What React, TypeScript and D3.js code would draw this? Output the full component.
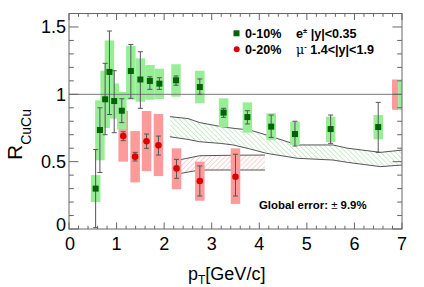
import React from "react";
import * as d3 from "d3";

// 0-10% e+- |y|<0.35 (green)
const ePt = [0.56, 0.65, 0.76, 0.85, 0.95, 1.11, 1.3, 1.5, 1.7, 1.9, 2.25, 2.75, 3.25, 3.75, 4.25, 4.75, 5.5, 6.5];
const eR = [0.3, 0.735, 0.963, 1.166, 0.95, 0.878, 1.173, 1.11, 1.099, 1.079, 1.104, 1.054, 0.864, 0.831, 0.76, 0.705, 0.742, 0.757];
const eStatLo = [0.01, 0.42, 0.7, 0.85, 0.715, 0.79, 0.97, 0.896, 1.037, 1.037, 1.067, 1.0, 0.829, 0.78, 0.68, 0.616, 0.636, 0.569];
const eStatHi = [0.59, 0.9, 1.23, 1.47, 1.175, 0.967, 1.37, 1.316, 1.13, 1.123, 1.136, 1.114, 0.896, 0.878, 0.846, 0.8, 0.846, 0.94];
const eSysLo = [0.2, 0.51, 0.75, 0.93, 0.82, 0.74, 0.96, 0.945, 0.96, 0.965, 0.982, 0.933, 0.755, 0.715, 0.66, 0.624, 0.646, 0.666];
const eSysHi = [0.4, 0.955, 1.175, 1.4, 1.08, 1.017, 1.36, 1.267, 1.218, 1.19, 1.223, 1.175, 0.97, 0.94, 0.859, 0.797, 0.834, 0.846];

// 0-20% mu- 1.4<|y|<1.9 (red)
const muPt = [1.14, 1.39, 1.63, 1.88, 2.26, 2.75, 3.5];
const muR = [0.69, 0.537, 0.651, 0.621, 0.45, 0.356, 0.388];
const muStatLo = [0.656, 0.505, 0.599, 0.549, 0.376, 0.245, 0.245];
const muStatHi = [0.722, 0.569, 0.705, 0.69, 0.517, 0.468, 0.555];
const muSysLo = [0.5, 0.346, 0.43, 0.393, 0.295, 0.21, 0.186];
const muSysHi = [0.876, 0.727, 0.876, 0.854, 0.599, 0.5, 0.599];

// theory bands
const gBandPt = [2.12, 2.5, 2.75, 3.2, 3.45, 3.8, 4.15, 4.8, 5.55, 5.85, 6.55, 7.0];
const gBandHi = [0.834, 0.82, 0.79, 0.76, 0.748, 0.735, 0.698, 0.624, 0.624, 0.6, 0.569, 0.586];
const gBandLo = [0.685, 0.665, 0.648, 0.635, 0.624, 0.595, 0.562, 0.525, 0.512, 0.495, 0.463, 0.475];
const rBandPt = [2.3, 2.75, 3.5, 4.12];
const rBandHi = [0.512, 0.544, 0.548, 0.549];
const rBandLo = [0.41, 0.438, 0.438, 0.438];

// global normalisation boxes at the right edge
const globalLo = 0.885;
const globalHi = 1.11;

const xTicks = [0, 1, 2, 3, 4, 5, 6, 7];
const yTicks = [0, 0.5, 1, 1.5];

const W = 424;
const H = 287;
const FONT = "'Liberation Sans', Arial, Helvetica, sans-serif";

const GREEN_BOX = "#97ee97";
const RED_BOX = "#ff9a9a";
const GREEN_MK = "#006400";
const RED_MK = "#dd0000";
const LINE = "#555";

export default function App() {
  const x = d3.scaleLinear().domain([0, 7]).range([69, 402]);
  const y = d3.scaleLinear().domain([0, 1.6]).range([229, 13.5]);
  const [x0, x1] = x.range();
  const [y0, y1] = y.range();

  const xMinor = d3.range(0, 7.0001, 0.2).filter((v) => Math.abs(v - Math.round(v)) > 1e-6);
  const yMinor = d3.range(0, 1.6001, 0.1).filter((v) => Math.abs(v * 2 - Math.round(v * 2)) > 1e-6);

  const bandArea = (pts: number[], lo: number[], hi: number[]) =>
    d3
      .area<number>()
      .x((_, i) => x(pts[i]))
      .y0((_, i) => y(lo[i]))
      .y1((_, i) => y(hi[i]))(pts) || "";
  const bandLine = (pts: number[], vals: number[]) =>
    d3
      .line<number>()
      .x((_, i) => x(pts[i]))
      .y((_, i) => y(vals[i]))(pts) || "";

  const halfW = 0.1;
  const cap = 2.5;

  const errBars = (pts: number[], lo: number[], hi: number[]) =>
    pts.map((p, i) => (
      <g key={i} stroke={LINE} strokeWidth={1}>
        <line x1={x(p)} x2={x(p)} y1={y(lo[i])} y2={y(hi[i])} />
        <line x1={x(p) - cap} x2={x(p) + cap} y1={y(lo[i])} y2={y(lo[i])} />
        <line x1={x(p) - cap} x2={x(p) + cap} y1={y(hi[i])} y2={y(hi[i])} />
      </g>
    ));

  return (
    <svg width={W} height={H} style={{ position: "absolute", left: 0, top: 0, background: "#fff" }} fontFamily={FONT}>
      <defs>
        <pattern id="hatchG" width={3.5} height={3.5} patternUnits="userSpaceOnUse" patternTransform="rotate(-45)">
          <line x1={0} y1={0} x2={0} y2={3.5} stroke="#9ad89a" strokeWidth={1} />
        </pattern>
        <pattern id="hatchR" width={3.5} height={3.5} patternUnits="userSpaceOnUse" patternTransform="rotate(45)">
          <line x1={0} y1={0} x2={0} y2={3.5} stroke="#f5a5a5" strokeWidth={1} />
        </pattern>
        <clipPath id="frame">
          <rect x={x0} y={y1} width={x1 - x0} height={y0 - y1} />
        </clipPath>
      </defs>

      <g clipPath="url(#frame)">
        {/* theory bands */}
        <path d={bandArea(gBandPt, gBandLo, gBandHi)} fill="url(#hatchG)" />
        <path d={bandArea(rBandPt, rBandLo, rBandHi)} fill="url(#hatchR)" />
        <g fill="none" stroke={LINE} strokeWidth={1}>
          <path d={bandLine(gBandPt, gBandHi)} />
          <path d={bandLine(gBandPt, gBandLo)} />
          <path d={bandLine(rBandPt, rBandHi)} />
          <path d={bandLine(rBandPt, rBandLo)} />
        </g>

        {/* systematic boxes */}
        {muPt.map((p, i) => (
          <rect key={i} x={x(p - halfW)} width={x(p + halfW) - x(p - halfW)} y={y(muSysHi[i])} height={y(muSysLo[i]) - y(muSysHi[i])} fill={RED_BOX} />
        ))}
        {ePt.map((p, i) => (
          <rect key={i} x={x(p - halfW)} width={x(p + halfW) - x(p - halfW)} y={y(eSysHi[i])} height={y(eSysLo[i]) - y(eSysHi[i])} fill={GREEN_BOX} />
        ))}

        {/* global errors */}
        <rect x={x(6.79)} width={x(6.92) - x(6.79)} y={y(globalHi)} height={y(globalLo) - y(globalHi)} fill={RED_BOX} />
        <rect x={x(6.92)} width={x(7) - x(6.92)} y={y(globalHi)} height={y(globalLo) - y(globalHi)} fill={GREEN_BOX} />

        {/* unity line */}
        <line x1={x0} x2={x1} y1={y(1)} y2={y(1)} stroke="#777" strokeWidth={1} />

        {errBars(muPt, muStatLo, muStatHi)}
        {errBars(ePt, eStatLo, eStatHi)}

        {muPt.map((p, i) => (
          <circle key={i} cx={x(p)} cy={y(muR[i])} r={3.3} fill={RED_MK} />
        ))}
        {ePt.map((p, i) => (
          <rect key={i} x={x(p) - 3} y={y(eR[i]) - 3} width={6} height={6} fill={GREEN_MK} />
        ))}
      </g>

      {/* frame */}
      <rect x={x0} y={y1} width={x1 - x0} height={y0 - y1} fill="none" stroke="#666" strokeWidth={1} />

      {/* ticks */}
      <g stroke="#666" strokeWidth={1}>
        {xTicks.map((t) => (
          <g key={"xM" + t}>
            <line x1={x(t)} x2={x(t)} y1={y0} y2={y0 - 6.5} />
            <line x1={x(t)} x2={x(t)} y1={y1} y2={y1 + 6.5} />
          </g>
        ))}
        {xMinor.map((t) => (
          <g key={"xm" + t}>
            <line x1={x(t)} x2={x(t)} y1={y0} y2={y0 - 3.3} />
            <line x1={x(t)} x2={x(t)} y1={y1} y2={y1 + 3.3} />
          </g>
        ))}
        {yTicks.map((t) => (
          <g key={"yM" + t}>
            <line x1={x0} x2={x0 + 9.5} y1={y(t)} y2={y(t)} />
            <line x1={x1} x2={x1 - 9.5} y1={y(t)} y2={y(t)} />
          </g>
        ))}
        {yMinor.map((t) => (
          <g key={"ym" + t}>
            <line x1={x0} x2={x0 + 4.8} y1={y(t)} y2={y(t)} />
            <line x1={x1} x2={x1 - 4.8} y1={y(t)} y2={y(t)} />
          </g>
        ))}
      </g>

      {/* tick labels */}
      <g fontSize={18} fill="#000">
        {xTicks.map((t) => (
          <text key={t} x={x(t) + (t === 0 ? 1 : 0)} y={250} textAnchor="middle">
            {t}
          </text>
        ))}
        {yTicks.map((t) => (
          <text key={t} x={x0 - 3} y={y(t) + (t === 0 ? 2 : 6.5)} textAnchor="end">
            {t}
          </text>
        ))}
      </g>

      {/* axis titles */}
      <text x={188} y={280} fontSize={18}>
        p<tspan fontSize={12} dy={4}>T</tspan>
        <tspan dy={-4}>[GeV/c]</tspan>
      </text>
      <text transform="translate(22,160) rotate(-90)" fontSize={21}>
        R<tspan fontSize={14} dy={9}>CuCu</tspan>
      </text>

      {/* legend */}
      <rect x={233.5} y={30.3} width={6} height={6} fill={GREEN_MK} />
      <circle cx={236.7} cy={49.3} r={3} fill={RED_MK} />
      <g fontSize={12.6} fontWeight="bold" fill="#000">
        <text x={245} y={37.8}>0-10%</text>
        <text x={296} y={37.8}>
          e<tspan fontSize={7.5} dy={-5}>±</tspan>
          <tspan dy={5}> |y|&lt;0.35</tspan>
        </text>
        <text x={245} y={53.8}>0-20%</text>
        <text x={296} y={53.8}>
          <tspan fontWeight="normal" fontFamily="'DejaVu Serif', serif">μ</tspan>
          <tspan fontSize={7.5} dy={-5}>-</tspan>
          <tspan dy={5}> 1.4&lt;|y|&lt;1.9</tspan>
        </text>
      </g>

      <text x={259} y={209} fontSize={11.4} fontWeight="bold">
        Global error: <tspan fontWeight="normal">±</tspan> 9.9%
      </text>
    </svg>
  );
}
